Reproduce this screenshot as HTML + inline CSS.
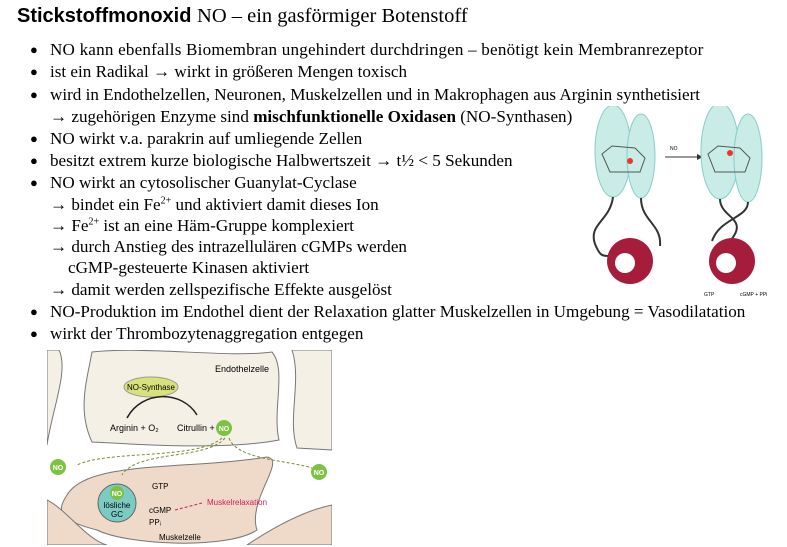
<!DOCTYPE html>
<html><head><meta charset="utf-8"><style>
body{margin:0;width:787px;height:547px;background:#fff;position:relative;overflow:hidden;font-family:"Liberation Serif",serif;color:#000}
.l{position:absolute;font-size:17.1px;white-space:nowrap;line-height:20px}
.b{position:absolute;left:30px;font-size:13px}
sup{font-size:10px;line-height:0}
</style></head><body>
<div class="l" style="left:17px;top:6px;font-size:20px;font-family:'Liberation Sans',sans-serif;"><b>Stickstoffmonoxid</b> <span style="font-family:'Liberation Serif',serif;font-size:20.5px">NO – ein gasförmiger Botenstoff</span></div>
<div>
<span class="b" style="top:42px">●</span><div class="l" style="left:50px;top:40px;letter-spacing:0.2px">NO kann ebenfalls Biomembran ungehindert durchdringen – benötigt kein Membranrezeptor</div>
<span class="b" style="top:64px">●</span><div class="l" style="left:50px;top:62px">ist ein Radikal <b>→</b> wirkt in größeren Mengen toxisch</div>
<span class="b" style="top:87px">●</span><div class="l" style="left:50px;top:85px">wird in Endothelzellen, Neuronen, Muskelzellen und in Makrophagen aus Arginin synthetisiert</div>
<div class="l" style="left:50px;top:107px"><b>→</b> zugehörigen Enzyme sind <b>mischfunktionelle Oxidasen</b> (NO-Synthasen)</div>
<span class="b" style="top:131px">●</span><div class="l" style="left:50px;top:129px">NO wirkt v.a. parakrin auf umliegende Zellen</div>
<span class="b" style="top:153px">●</span><div class="l" style="left:50px;top:151px">besitzt extrem kurze biologische Halbwertszeit <b>→</b> t½ &lt; 5 Sekunden</div>
<span class="b" style="top:175px">●</span><div class="l" style="left:50px;top:173px">NO wirkt an cytosolischer Guanylat-Cyclase</div>
<div class="l" style="left:50px;top:195px"><b>→</b> bindet ein Fe<sup>2+</sup> und aktiviert damit dieses Ion</div>
<div class="l" style="left:50px;top:216px"><b>→</b> Fe<sup>2+</sup> ist an eine Häm-Gruppe komplexiert</div>
<div class="l" style="left:50px;top:237px"><b>→</b> durch Anstieg des intrazellulären cGMPs werden</div>
<div class="l" style="left:68px;top:258px">cGMP-gesteuerte Kinasen aktiviert</div>
<div class="l" style="left:50px;top:280px"><b>→</b> damit werden zellspezifische Effekte ausgelöst</div>
<span class="b" style="top:304px">●</span><div class="l" style="left:50px;top:302px">NO-Produktion im Endothel dient der Relaxation glatter Muskelzellen in Umgebung = Vasodilatation</div>
<span class="b" style="top:326px">●</span><div class="l" style="left:50px;top:324px">wirkt der Thrombozytenaggregation entgegen</div>
</div>

<svg style="position:absolute;left:580px;top:106px" width="200" height="200" font-family="Liberation Sans,sans-serif">
 <defs><marker id="a" markerWidth="6" markerHeight="6" refX="5" refY="3" orient="auto"><path d="M0 0L6 3L0 6Z" fill="#333"/></marker></defs>
 <g>
  <ellipse cx="33" cy="45" rx="18" ry="46" fill="#c9ece6" stroke="#8cc"/>
  <ellipse cx="61" cy="50" rx="14" ry="42" fill="#c9ece6" stroke="#8cc"/>
  <path d="M22 48 L32 40 L55 42 L65 52 L60 66 L30 66Z" fill="none" stroke="#555"/>
  <circle cx="50" cy="55" r="3" fill="#e33"/>
  <path d="M33 91 C30 115 8 118 15 138 C20 150 22 150 30 150 M61 92 C61 115 82 118 80 140" fill="none" stroke="#333" stroke-width="2"/>
  <circle cx="50" cy="155" r="23" fill="#a51d3a"/>
  <circle cx="45" cy="157" r="10" fill="#fff"/>
 </g>
 <text x="90" y="44" font-size="5">NO</text>
 <path d="M85 51 L122 51" stroke="#333" marker-end="url(#a)"/>
 <g>
  <ellipse cx="140" cy="45" rx="19" ry="48" fill="#c9ece6" stroke="#8cc"/>
  <ellipse cx="168" cy="52" rx="14" ry="44" fill="#c9ece6" stroke="#8cc"/>
  <path d="M128 48 L138 40 L160 42 L170 52 L165 66 L135 66Z" fill="none" stroke="#555"/>
  <circle cx="150" cy="47" r="3" fill="#e33"/>
  <path d="M140 93 C140 112 170 112 150 135 M168 96 C168 112 140 112 132 135" fill="none" stroke="#333" stroke-width="2"/>
  <circle cx="152" cy="155" r="23" fill="#a51d3a"/>
  <circle cx="146" cy="157" r="10" fill="#fff"/>
  <text x="124" y="190" font-size="5">GTP</text>
  <text x="160" y="190" font-size="5">cGMP + PPi</text>
 </g>
</svg>

<svg style="position:absolute;left:47px;top:350px" width="285" height="195" font-family="Liberation Sans,sans-serif">
 <path d="M0 0 L12 0 C22 20 5 60 0 95Z" fill="#f4f0e6" stroke="#777"/>
 <path d="M45 2 C100 -4 180 8 225 2 C240 20 225 60 232 90 C180 100 100 95 45 92 C30 60 40 30 45 2Z" fill="#f4f0e6" stroke="#777"/>
 <path d="M245 0 L285 0 L285 100 L250 98 C240 70 255 30 245 0Z" fill="#f4f0e6" stroke="#777"/>
 <path d="M20 145 C40 110 140 120 220 107 C240 110 200 150 210 180 C180 200 80 195 50 180 C10 170 10 160 20 145Z" fill="#efd9c8" stroke="#777"/>
 <path d="M0 150 C20 160 40 190 60 195 L0 195Z" fill="#efd9c8" stroke="#777"/>
 <path d="M200 195 C230 175 260 160 285 155 L285 195Z" fill="#efd9c8" stroke="#777"/>
 <text x="168" y="22" font-size="9">Endothelzelle</text>
 <ellipse cx="104" cy="37" rx="27" ry="10" fill="#d8e27a" stroke="#999"/>
 <text x="104" y="40" font-size="8" text-anchor="middle">NO-Synthase</text>
 <path d="M80 68 C95 40 135 40 150 65" fill="none" stroke="#222" stroke-width="1.5"/>
 <text x="63" y="81" font-size="9">Arginin + O₂</text>
 <text x="130" y="81" font-size="9">Citrullin +</text>
 <circle cx="177" cy="78" r="8" fill="#7dc242"/><text x="177" y="81" font-size="7" fill="#fff" text-anchor="middle" font-weight="bold">NO</text>
 <path d="M175 88 C150 110 60 100 30 115 M178 88 C160 110 90 100 75 125 M182 88 C190 110 240 110 265 118" fill="none" stroke="#7a8a3a" stroke-dasharray="3 2"/>
 <circle cx="11" cy="117" r="8" fill="#7dc242"/><text x="11" y="120" font-size="7" fill="#fff" text-anchor="middle" font-weight="bold">NO</text>
 <circle cx="272" cy="122" r="8" fill="#7dc242"/><text x="272" y="125" font-size="7" fill="#fff" text-anchor="middle" font-weight="bold">NO</text>
 <circle cx="70" cy="153" r="19" fill="#7ccac4" stroke="#666"/>
 <circle cx="70" cy="143" r="7" fill="#7dc242"/><text x="70" y="146" font-size="7" fill="#fff" text-anchor="middle" font-weight="bold">NO</text>
 <text x="70" y="158" font-size="8" text-anchor="middle">lösliche</text><text x="70" y="167" font-size="8" text-anchor="middle">GC</text>
 <text x="105" y="139" font-size="8">GTP</text>
 <text x="102" y="163" font-size="8">cGMP</text>
 <text x="102" y="175" font-size="8">PPᵢ</text>
 <path d="M128 160 L155 153" stroke="#d02060" stroke-dasharray="3 2"/>
 <text x="160" y="155" font-size="8" fill="#d02060">Muskelrelaxation</text>
 <text x="112" y="190" font-size="8">Muskelzelle</text>
</svg>
</body></html>
